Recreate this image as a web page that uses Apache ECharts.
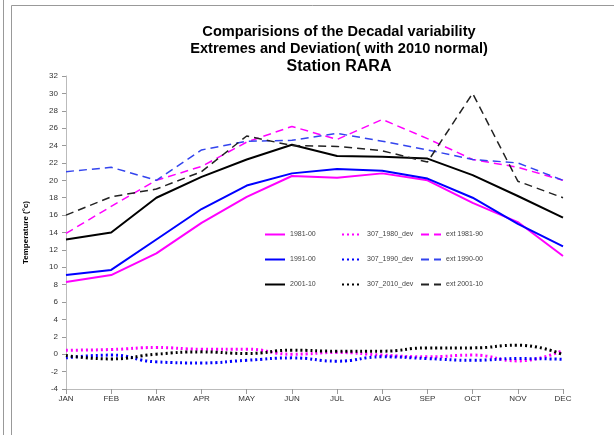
<!DOCTYPE html>
<html><head><meta charset="utf-8">
<script src="https://cdn.jsdelivr.net/npm/echarts@6/dist/echarts.min.js"></script>
<style>html,body{margin:0;padding:0;background:#fff}#c{width:614px;height:435px}</style>
</head><body><div id="c"></div>
<script>
const months = ['JAN','FEB','MAR','APR','MAY','JUN','JUL','AUG','SEP','OCT','NOV','DEC'];
const s1981 = [8.3, 9.1, 11.6, 15.1, 18.1, 20.5, 20.3, 20.8, 20.0, 17.4, 15.2, 11.3];
const s1991 = [9.1, 9.7, 13.2, 16.7, 19.4, 20.8, 21.3, 21.1, 20.2, 18.0, 15.0, 12.4];
const s2001 = [13.2, 14.0, 18.0, 20.4, 22.4, 24.1, 22.8, 22.7, 22.5, 20.6, 18.2, 15.7];
const dev1980 = [0.46, 0.54, 0.77, 0.58, 0.58, 0.0, 0.2, -0.1, -0.3, -0.1, -0.77, 0.46];
const dev1990 = [-0.42, -0.1, -0.88, -1.0, -0.7, -0.42, -0.8, -0.3, -0.5, -0.7, -0.5, -0.58];
const dev2010 = [-0.15, -0.54, 0.0, 0.27, 0.08, 0.46, 0.35, 0.35, 0.73, 0.73, 1.04, -0.04];
const ext1981 = [13.9, 17.0, 20.0, 21.6, 24.4, 26.2, 24.7, 27.0, 24.8, 22.4, 21.5, 20.0];
const ext1990 = [21.0, 21.5, 20.0, 23.5, 24.5, 24.6, 25.4, 24.5, 23.5, 22.4, 22.0, 20.0];
const ext2001 = [16.0, 18.1, 19.0, 21.0, 25.1, 24.0, 23.9, 23.4, 22.1, 30.0, 19.9, 18.0];

const MAG = '#ff00ff', BLU = '#0000ff', BLK = '#000000';
function ser(name, data, color, type, width, smooth) {
  return {
    name, type: 'line', data, symbol: 'none', showSymbol: false, smooth: !!smooth,
    legendIcon: 'none',
    lineStyle: { color, width, type: type }, itemStyle: { color },
    emphasis: { disabled: true }, animation: false
  };
}
const chart = echarts.init(document.getElementById('c'));
const legendCommon = {
  orient: 'vertical', itemWidth: 20, itemHeight: 8, itemGap: 18,
  textStyle: { fontSize: 7, color: '#444', fontFamily: 'Liberation Sans' },
  itemStyle: { opacity: 0 },
  selectedMode: false, padding: 0
};
chart.setOption({
  animation: false,
  textStyle: { fontFamily: 'Liberation Sans' },
  title: {
    text: '{a|Comparisions of the Decadal variability}\n{a|Extremes and Deviation( with 2010 normal)}\n{b|Station RARA}',
    left: 334, top: 18, textAlign: 'center',
    textStyle: {
      rich: {
        a: { fontSize: 14.6, fontWeight: 'bold', color: '#000', fontFamily: 'Liberation Sans', lineHeight: 17 },
        b: { fontSize: 16, fontWeight: 'bold', color: '#000', fontFamily: 'Liberation Sans', lineHeight: 19 }
      }
    }
  },
  graphic: [
    { type: 'line', shape: { x1: 3.5, y1: 0, x2: 3.5, y2: 435 }, style: { stroke: '#999', lineWidth: 1 } },
    { type: 'polyline', shape: { points: [[11.5, 435], [11.5, 5.5], [614, 5.5]] }, style: { stroke: '#999', lineWidth: 1, fill: null } }
  ],
  legend: [
    Object.assign({ left: 264, top: 231, data: ['1981-00', '1991-00', '2001-10'] }, legendCommon),
    Object.assign({ left: 341, top: 231, data: ['307_1980_dev', '307_1990_dev', '307_2010_dev'] }, legendCommon),
    Object.assign({ left: 420, top: 231, data: ['ext 1981-90', 'ext 1990-00', 'ext 2001-10'] }, legendCommon)
  ],
  grid: { left: 66, right: 51, top: 76, bottom: 46, containLabel: false },
  xAxis: {
    type: 'category', data: months, boundaryGap: false,
    axisLine: { onZero: false, lineStyle: { color: '#bbb' } },
    axisTick: { show: true, alignWithLabel: true, lineStyle: { color: '#999' } },
    axisLabel: { fontSize: 8, color: '#333', margin: 6 },
    splitLine: { show: false }
  },
  yAxis: {
    type: 'value', min: -4, max: 32, interval: 2,
    name: 'Temperature (°c)', nameLocation: 'middle', nameGap: 36, nameRotate: 90,
    nameTextStyle: { fontSize: 8, fontWeight: 'bold', color: '#000' },
    axisLine: { show: true, lineStyle: { color: '#bbb' } },
    axisTick: { show: true, length: 4, lineStyle: { color: '#999' } },
    axisLabel: { fontSize: 8, color: '#333', margin: 8 },
    splitLine: { show: false }
  },
  series: [
    ser('1981-00', s1981, MAG, 'solid', 2),
    ser('1991-00', s1991, BLU, 'solid', 2),
    ser('2001-10', s2001, BLK, 'solid', 2),
    ser('307_1980_dev', dev1980, MAG, [2, 3], 3, 0.4),
    ser('307_1990_dev', dev1990, BLU, [2, 3], 3, 0.4),
    ser('307_2010_dev', dev2010, BLK, [2, 3], 3, 0.4),
    ser('ext 1981-90', ext1981, MAG, [8, 5], 1.5),
    ser('ext 1990-00', ext1990, '#3344ee', [8, 5], 1.5),
    ser('ext 2001-10', ext2001, '#222', [8, 5], 1.5)
  ]
});
</script></body></html>
